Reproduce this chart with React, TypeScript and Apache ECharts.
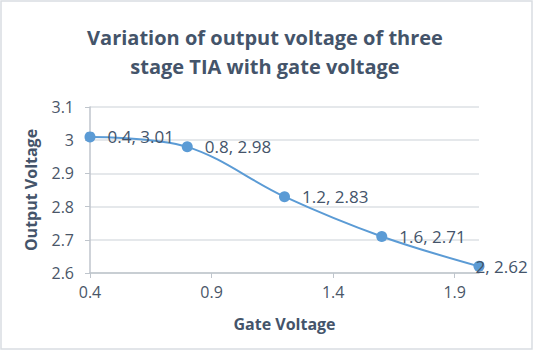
import React, { useEffect, useRef } from "react";
import * as echarts from "echarts";

const gateVoltage = [0.4, 0.8, 1.2, 1.6, 2];
const outputVoltage = [3.01, 2.98, 2.83, 2.71, 2.62];
const xTicks = [0.4, 0.9, 1.4, 1.9];
const titleText = "Variation of output voltage of three\nstage TIA with gate voltage";

export default function App() {
  const ref = useRef<HTMLDivElement>(null);
  useEffect(() => {
    document.body.style.margin = "0";
    const chart = echarts.init(ref.current!, undefined, { renderer: "svg" });
    const font = "'Open Sans', sans-serif";
    const labelColor = "#4A5668";
    const data = gateVoltage.map((x, i) => {
      const item: any = { value: [x, outputVoltage[i]] };
      if (i === gateVoltage.length - 1) {
        item.label = { offset: [-21, 0] };
      }
      return item;
    });
    chart.setOption({
      animation: false,
      backgroundColor: "#ffffff",
      graphic: [
        {
          type: "rect",
          shape: { x: 1, y: 1, width: 531, height: 348 },
          style: { fill: "none", stroke: "#D9DDE2", lineWidth: 1.5 },
          silent: true,
        },
      ],
      title: {
        text: titleText,
        left: 260,
        textAlign: "center",
        top: 18,
        textStyle: {
          fontFamily: font,
          fontSize: 20,
          fontWeight: "bold",
          color: "#44546A",
          lineHeight: 29,
        },
      },
      grid: { left: 90, top: 107, right: 55, bottom: 78, containLabel: false },
      xAxis: {
        type: "value",
        min: 0.4,
        max: 2,
        interval: 0.5,
        name: "Gate Voltage",
        nameLocation: "middle",
        nameGap: 43,
        nameTextStyle: { fontFamily: font, fontSize: 16, fontWeight: "bold", color: "#44546A" },
        axisLine: { show: true, lineStyle: { color: "#BFC5CC", width: 1.5 } },
        axisTick: { show: true, length: 5, lineStyle: { color: "#BFC5CC" }, customValues: xTicks },
        axisLabel: {
          fontFamily: font,
          fontSize: 16,
          color: labelColor,
          margin: 11,
          customValues: xTicks,
        },
        splitLine: { show: false },
      },
      yAxis: {
        type: "value",
        min: 2.6,
        max: 3.1,
        interval: 0.1,
        name: "Output Voltage",
        nameLocation: "middle",
        nameGap: 51,
        nameRotate: 90,
        nameTextStyle: { fontFamily: font, fontSize: 16, fontWeight: "bold", color: "#44546A" },
        axisLine: { show: true, lineStyle: { color: "#BFC5CC", width: 1.5 } },
        axisTick: { show: true, length: 5, inside: false, lineStyle: { color: "#BFC5CC" } },
        axisLabel: {
          fontFamily: font,
          fontSize: 16,
          color: labelColor,
          margin: 16,
          formatter: (v: number) => String(Math.round(v * 10) / 10),
        },
        splitLine: { show: true, lineStyle: { color: "#DDE1E5", width: 1.5 } },
      },
      series: [
        {
          type: "line",
          data,
          smooth: 0.35,
          symbol: "circle",
          symbolSize: 11,
          itemStyle: { color: "#5B9BD5" },
          lineStyle: { color: "#5B9BD5", width: 2 },
          label: {
            show: true,
            position: "right",
            distance: 12,
            fontFamily: font,
            fontSize: 17,
            color: "#44546A",
            formatter: (p: any) => `${p.value[0]}, ${p.value[1]}`,
          },
        },
      ],
    });
    return () => chart.dispose();
  }, []);
  return <div ref={ref} style={{ width: 534, height: 351 }} />;
}
